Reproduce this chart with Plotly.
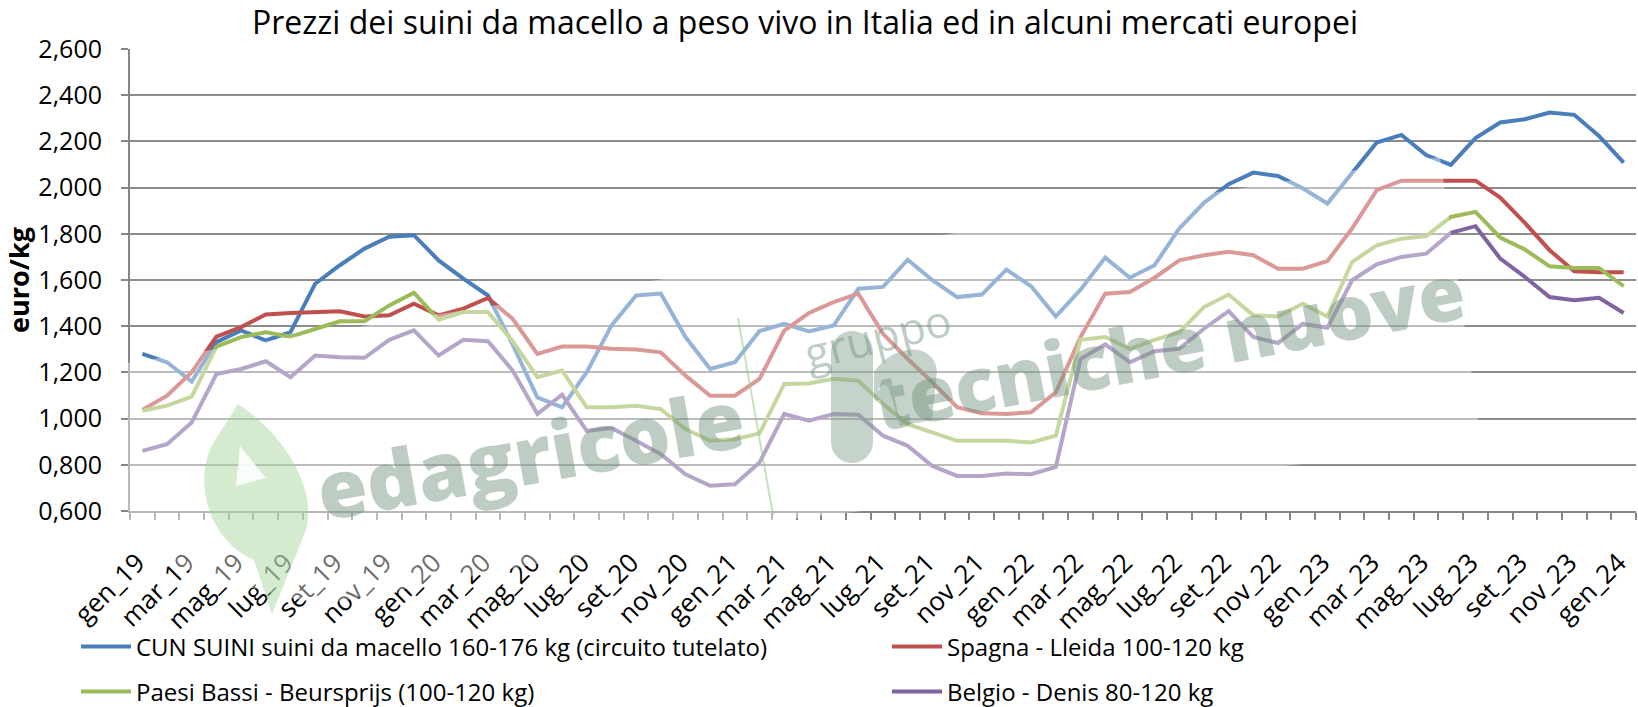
import plotly.graph_objects as go

# ---------------- data ----------------
months = ["gen", "feb", "mar", "apr", "mag", "giu", "lug", "ago", "set", "ott", "nov", "dic"]
years = ["19", "20", "21", "22", "23"]
labels = [f"{m}_{y}" for y in years for m in months] + ["gen_24"]

cun = [1.280, 1.244, 1.160, 1.331, 1.382, 1.338, 1.374, 1.584, 1.664, 1.736, 1.787, 1.794,
       1.685, 1.606, 1.533, 1.320, 1.092, 1.049, 1.201, 1.403, 1.533, 1.541, 1.353, 1.215,
       1.244, 1.379, 1.410, 1.377, 1.403, 1.562, 1.570, 1.688, 1.599, 1.526, 1.537, 1.645,
       1.573, 1.442, 1.558, 1.697, 1.610, 1.664, 1.823, 1.934, 2.015, 2.065, 2.050, 1.997,
       1.931, 2.062, 2.195, 2.228, 2.141, 2.098, 2.214, 2.282, 2.296, 2.325, 2.315, 2.224,
       2.108]
spagna = [1.037, 1.099, 1.201, 1.355, 1.396, 1.451, 1.457, 1.461, 1.465, 1.442, 1.447, 1.497,
          1.447, 1.476, 1.522, 1.432, 1.280, 1.312, 1.312, 1.302, 1.299, 1.287, 1.186, 1.099,
          1.099, 1.172, 1.381, 1.457, 1.504, 1.541, 1.367, 1.258, 1.157, 1.049, 1.023, 1.020,
          1.027, 1.114, 1.353, 1.541, 1.548, 1.610, 1.685, 1.707, 1.722, 1.707, 1.649, 1.649,
          1.682, 1.823, 1.989, 2.030, 2.030, 2.030, 2.030, 1.957, 1.847, 1.729, 1.638, 1.634,
          1.634]
paesi_bassi = [1.034, 1.056, 1.095, 1.312, 1.353, 1.374, 1.355, 1.389, 1.421, 1.421, 1.490, 1.545,
               1.428, 1.461, 1.461, 1.335, 1.179, 1.208, 1.049, 1.049, 1.056, 1.041, 0.955, 0.904,
               0.911, 0.936, 1.150, 1.152, 1.172, 1.164, 1.063, 0.976, 0.940, 0.904, 0.904, 0.904,
               0.897, 0.926, 1.341, 1.353, 1.302, 1.341, 1.374, 1.483, 1.537, 1.447, 1.442, 1.497,
               1.442, 1.678, 1.750, 1.779, 1.790, 1.873, 1.895, 1.784, 1.732, 1.659, 1.652, 1.652,
               1.573]
belgio = [0.860, 0.889, 0.983, 1.193, 1.215, 1.248, 1.179, 1.273, 1.266, 1.263, 1.341, 1.382,
          1.273, 1.341, 1.335, 1.208, 1.020, 1.104, 0.947, 0.959, 0.904, 0.846, 0.759, 0.709,
          0.716, 0.810, 1.020, 0.991, 1.020, 1.017, 0.926, 0.882, 0.795, 0.752, 0.752, 0.762,
          0.759, 0.791, 1.258, 1.321, 1.244, 1.292, 1.302, 1.389, 1.465, 1.353, 1.327, 1.410,
          1.393, 1.599, 1.668, 1.700, 1.714, 1.804, 1.833, 1.693, 1.613, 1.526, 1.512, 1.523,
          1.457]

series_names = ["CUN SUINI suini da macello 160-176 kg (circuito tutelato)",
                "Spagna - Lleida 100-120 kg",
                "Paesi Bassi - Beursprijs (100-120 kg)",
                "Belgio - Denis 80-120 kg"]
series_values = [cun, spagna, paesi_bassi, belgio]
series_colors = ["#4A7EBB", "#C0504D", "#9BBB59", "#8064A2"]

title_text = "Prezzi dei suini da macello a peso vivo in Italia ed in alcuni mercati europei"
y_title = "euro/kg"

# ---------------- geometry ----------------
W, H = 1638, 707
ML, MR, MT, MB = 130, 2, 49, 196
PW, PH = W - ML - MR, H - MT - MB
FONT = "Open Sans, Noto Sans, sans-serif"


def px(x, y):
    """pixel -> paper coordinates (for decorations only)"""
    return (x - ML) / PW, (H - MB - y) / PH


def path_from(points_cmds):
    out = []
    for cmd, pts in points_cmds:
        coords = []
        for (x, y) in pts:
            a, b = px(x, y)
            coords.append(f"{a:.5f},{b:.5f}")
        out.append(cmd + " ".join(coords))
    return " ".join(out) + " Z"


idx = list(range(len(labels)))

legend_ids = ["legend", "legend2", "legend3", "legend4"]
legend_pos = [(76, 647), (887, 647), (76, 692), (887, 692)]

fig = go.Figure()
for name, vals, col, lg in zip(series_names, series_values, series_colors, legend_ids):
    fig.add_trace(go.Scatter(x=idx, y=vals, mode="lines", name=name,
                             line=dict(color=col, width=4), legend=lg))

# ---------------- watermark decorations ----------------
shapes = []
veil = [(128, 363), (1440, 157), (1482, 445), (760, 522), (320, 605), (200, 575), (128, 545)]
shapes.append(dict(type="path", xref="paper", yref="paper", layer="above",
                   path=path_from([("M", [veil[0]])] + [("L", [p]) for p in veil[1:]]),
                   fillcolor="rgba(255,255,255,0.42)", line=dict(width=0)))
leaf = path_from([("M", [(238, 404)]),
                  ("C", [(292, 440), (322, 500), (302, 540)]),
                  ("L", [(272, 614)]),
                  ("L", [(254, 560)]),
                  ("C", [(208, 540), (192, 480), (214, 442)])])
shapes.append(dict(type="path", xref="paper", yref="paper", layer="above", path=leaf,
                   fillcolor="rgba(160,210,150,0.45)", line=dict(width=0)))
eye = path_from([("M", [(240, 446)]), ("L", [(266, 478)]), ("L", [(236, 486)])])
shapes.append(dict(type="path", xref="paper", yref="paper", layer="above", path=eye,
                   fillcolor="rgba(255,255,255,0.85)", line=dict(width=0)))
a0 = px(738, 318)
a1 = px(773, 515)
shapes.append(dict(type="line", xref="paper", yref="paper", layer="above",
                   x0=a0[0], y0=a0[1], x1=a1[0], y1=a1[1],
                   line=dict(color="rgba(150,200,140,0.55)", width=2)))
cx, top, bot, r = 852, 352, 442, 21
k = 0.552 * r
pill = path_from([("M", [(cx - r, top)]),
                  ("C", [(cx - r, top - k), (cx - k, top - r), (cx, top - r)]),
                  ("C", [(cx + k, top - r), (cx + r, top - k), (cx + r, top)]),
                  ("L", [(cx + r, bot)]),
                  ("C", [(cx + r, bot + k), (cx + k, bot + r), (cx, bot + r)]),
                  ("C", [(cx - k, bot + r), (cx - r, bot + k), (cx - r, bot)])])
shapes.append(dict(type="path", xref="paper", yref="paper", layer="above", path=pill,
                   fillcolor="rgba(120,150,130,0.42)", line=dict(width=0)))
wedge = path_from([("M", [(874, 372)]),
                   ("C", [(892, 345), (932, 340), (937, 370)]),
                   ("L", [(932, 420)]),
                   ("L", [(900, 426)]),
                   ("L", [(890, 392)]),
                   ("C", [(887, 380), (878, 384), (874, 400)])])
shapes.append(dict(type="path", xref="paper", yref="paper", layer="above", path=wedge,
                   fillcolor="rgba(120,150,130,0.42)", line=dict(width=0)))

annotations = []
wm_col = "rgba(110,145,122,0.45)"
for txt, (x, y), size, ang, wt in [("edagricole", (530, 452), 80, -10, 800),
                                   ("gruppo", (877, 336), 44, -14, 400),
                                   ("tecniche nuove", (1168, 345), 76, -11, 800)]:
    ax, ay = px(x, y)
    annotations.append(dict(text=txt, x=ax, y=ay, xref="paper", yref="paper",
                            showarrow=False, textangle=ang,
                            font=dict(family=FONT, size=size, color=wm_col, weight=wt),
                            xanchor="center", yanchor="middle"))

legend_layout = {}
for lid, (lx, ly) in zip(legend_ids, legend_pos):
    legend_layout[lid] = dict(orientation="h", x=(lx - ML) / PW, xanchor="left",
                              y=(H - MB - ly) / PH, yanchor="middle", itemwidth=50,
                              font=dict(family=FONT, size=24, color="#000000"),
                              bgcolor="rgba(0,0,0,0)")

fig.update_layout(
    width=W, height=H,
    margin=dict(l=ML, r=MR, t=MT, b=MB, autoexpand=False),
    paper_bgcolor="white", plot_bgcolor="white",
    separators=",.",
    font=dict(family=FONT, color="#000000"),
    title=dict(text=title_text, x=805 / W, xref="container", xanchor="center",
               y=1 - 23 / H, yref="container", yanchor="middle",
               font=dict(family=FONT, size=32, color="#000000")),
    xaxis=dict(range=[-0.5, len(labels) - 0.5], tickmode="array",
               tickvals=idx[::2], ticktext=labels[::2], tickangle=-45,
               ticks="", showgrid=False, zeroline=False, automargin=False,
               showline=True, linecolor="#868686", linewidth=2,
               tickfont=dict(family=FONT, size=26, color="#000000"),
               ticklabelstandoff=24, ticklabelshift=-5,
               minor=dict(tick0=-0.5, dtick=1, ticks="outside", ticklen=7,
                          tickcolor="#868686", tickwidth=1.5, showgrid=False)),
    yaxis=dict(range=[0.6, 2.6], tick0=0.6, dtick=0.2, tickformat=".3f",
               showgrid=True, gridcolor="#8C8C8C", gridwidth=1.5, zeroline=False,
               showline=True, linecolor="#868686", linewidth=2, automargin=False,
               ticks="outside", ticklen=7, tickcolor="#868686", tickwidth=1.5,
               ticklabelstandoff=14,
               tickfont=dict(family=FONT, size=25, color="#000000"),
               title=dict(text=y_title, standoff=12,
                          font=dict(family=FONT, size=27, color="#000000", weight="bold"))),
    shapes=shapes,
    annotations=annotations,
    showlegend=True,
    **legend_layout,
)

fig.write_html("out.html", config={"displayModeBar": False},
               post_script="document.body.style.margin='0';document.body.style.overflow='hidden';")
